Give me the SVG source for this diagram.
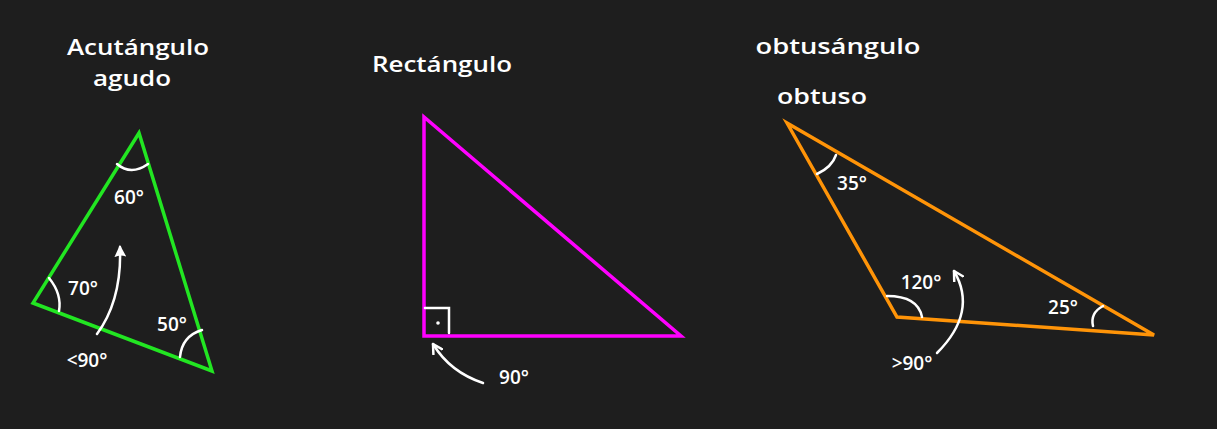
<svg xmlns="http://www.w3.org/2000/svg" width="1217" height="429" viewBox="0 0 1217 429">
<style>
.bg{fill:#1e1e1e}
.t{fill:#ffffff;font-family:"Open Sans","Liberation Sans",sans-serif;font-weight:600;text-anchor:middle}
.h{font-size:22px}
.l{font-size:19px}
.arc{fill:none;stroke:#ffffff;stroke-width:2.5;stroke-linecap:round}
.tri{fill:none;stroke-width:3.5;stroke-linejoin:miter;stroke-linecap:round}
.conn{fill:none;stroke:#ffffff;stroke-width:2.5;stroke-linecap:round}
</style>
<defs>
<marker id="ah" viewBox="0 0 12 12" refX="10" refY="6" markerWidth="12" markerHeight="12" orient="auto" markerUnits="userSpaceOnUse">
<path d="M0,0 L12,6 L0,12 Q3,6 0,0 Z" fill="#ffffff"/>
</marker>
<marker id="chev" viewBox="0 0 12 12" refX="10" refY="6" markerWidth="12" markerHeight="12" orient="auto" markerUnits="userSpaceOnUse">
<path d="M1,1 L10,6 L1,11" fill="none" stroke="#ffffff" stroke-width="2.5" stroke-linecap="round" stroke-linejoin="round"/>
</marker>
</defs>
<rect class="bg" x="0" y="0" width="1217" height="429"/>

<g id="acute">
<polygon class="tri" stroke="#22e622" points="139,133 33,303 212,371"/>
<path class="arc" d="M117,164 Q131,176 148,164"/>
<path class="arc" d="M49,278 Q62,294 59,311"/>
<path class="arc" d="M180,357 Q182,336 202,330"/>
<text class="t h" x="138" y="55" textLength="142" lengthAdjust="spacingAndGlyphs">Acutángulo</text>
<text class="t h" x="132" y="86" textLength="78" lengthAdjust="spacingAndGlyphs">agudo</text>
<text class="t l" x="129" y="204">60°</text>
<text class="t l" x="83" y="295">70°</text>
<text class="t l" x="172" y="331">50°</text>
<text class="t l" x="87" y="367">&lt;90°</text>
</g>

<g id="right">
<polygon class="tri" stroke="#ff00ff" points="424,117 424,336 681,336"/>
<path class="arc" d="M425,308 L449,308 L449,333"/>
<circle cx="438" cy="323" r="1.8" fill="#ffffff"/>
<text class="t h" x="442" y="72" textLength="140" lengthAdjust="spacingAndGlyphs">Rectángulo</text>
<text class="t l" x="514" y="384">90°</text>
</g>

<g id="obtuse">
<polygon class="tri" stroke="#ff9408" points="787,123 897,317 1154,335"/>
<path class="arc" d="M817,174 Q832,167 836,155"/>
<path class="arc" d="M887,296 Q918,296 922,317"/>
<path class="arc" d="M1093,326 Q1090,313 1103,306"/>
<text class="t h" x="838" y="54" textLength="165" lengthAdjust="spacingAndGlyphs">obtusángulo</text>
<text class="t h" x="822" y="104" textLength="90" lengthAdjust="spacingAndGlyphs">obtuso</text>
<text class="t l" x="852" y="190">35°</text>
<text class="t l" x="921" y="289">120°</text>
<text class="t l" x="1063" y="314">25°</text>
<text class="t l" x="912" y="370">&gt;90°</text>
</g>

<g id="connectors">
<path class="conn" marker-end="url(#ah)" d="M97,334 Q122,300 120,247"/>
<path class="conn" marker-end="url(#chev)" d="M483,383 Q450,372 433,344"/>
<path class="conn" marker-end="url(#chev)" d="M937,353 Q978,312 954,271"/>
</g>
</svg>
